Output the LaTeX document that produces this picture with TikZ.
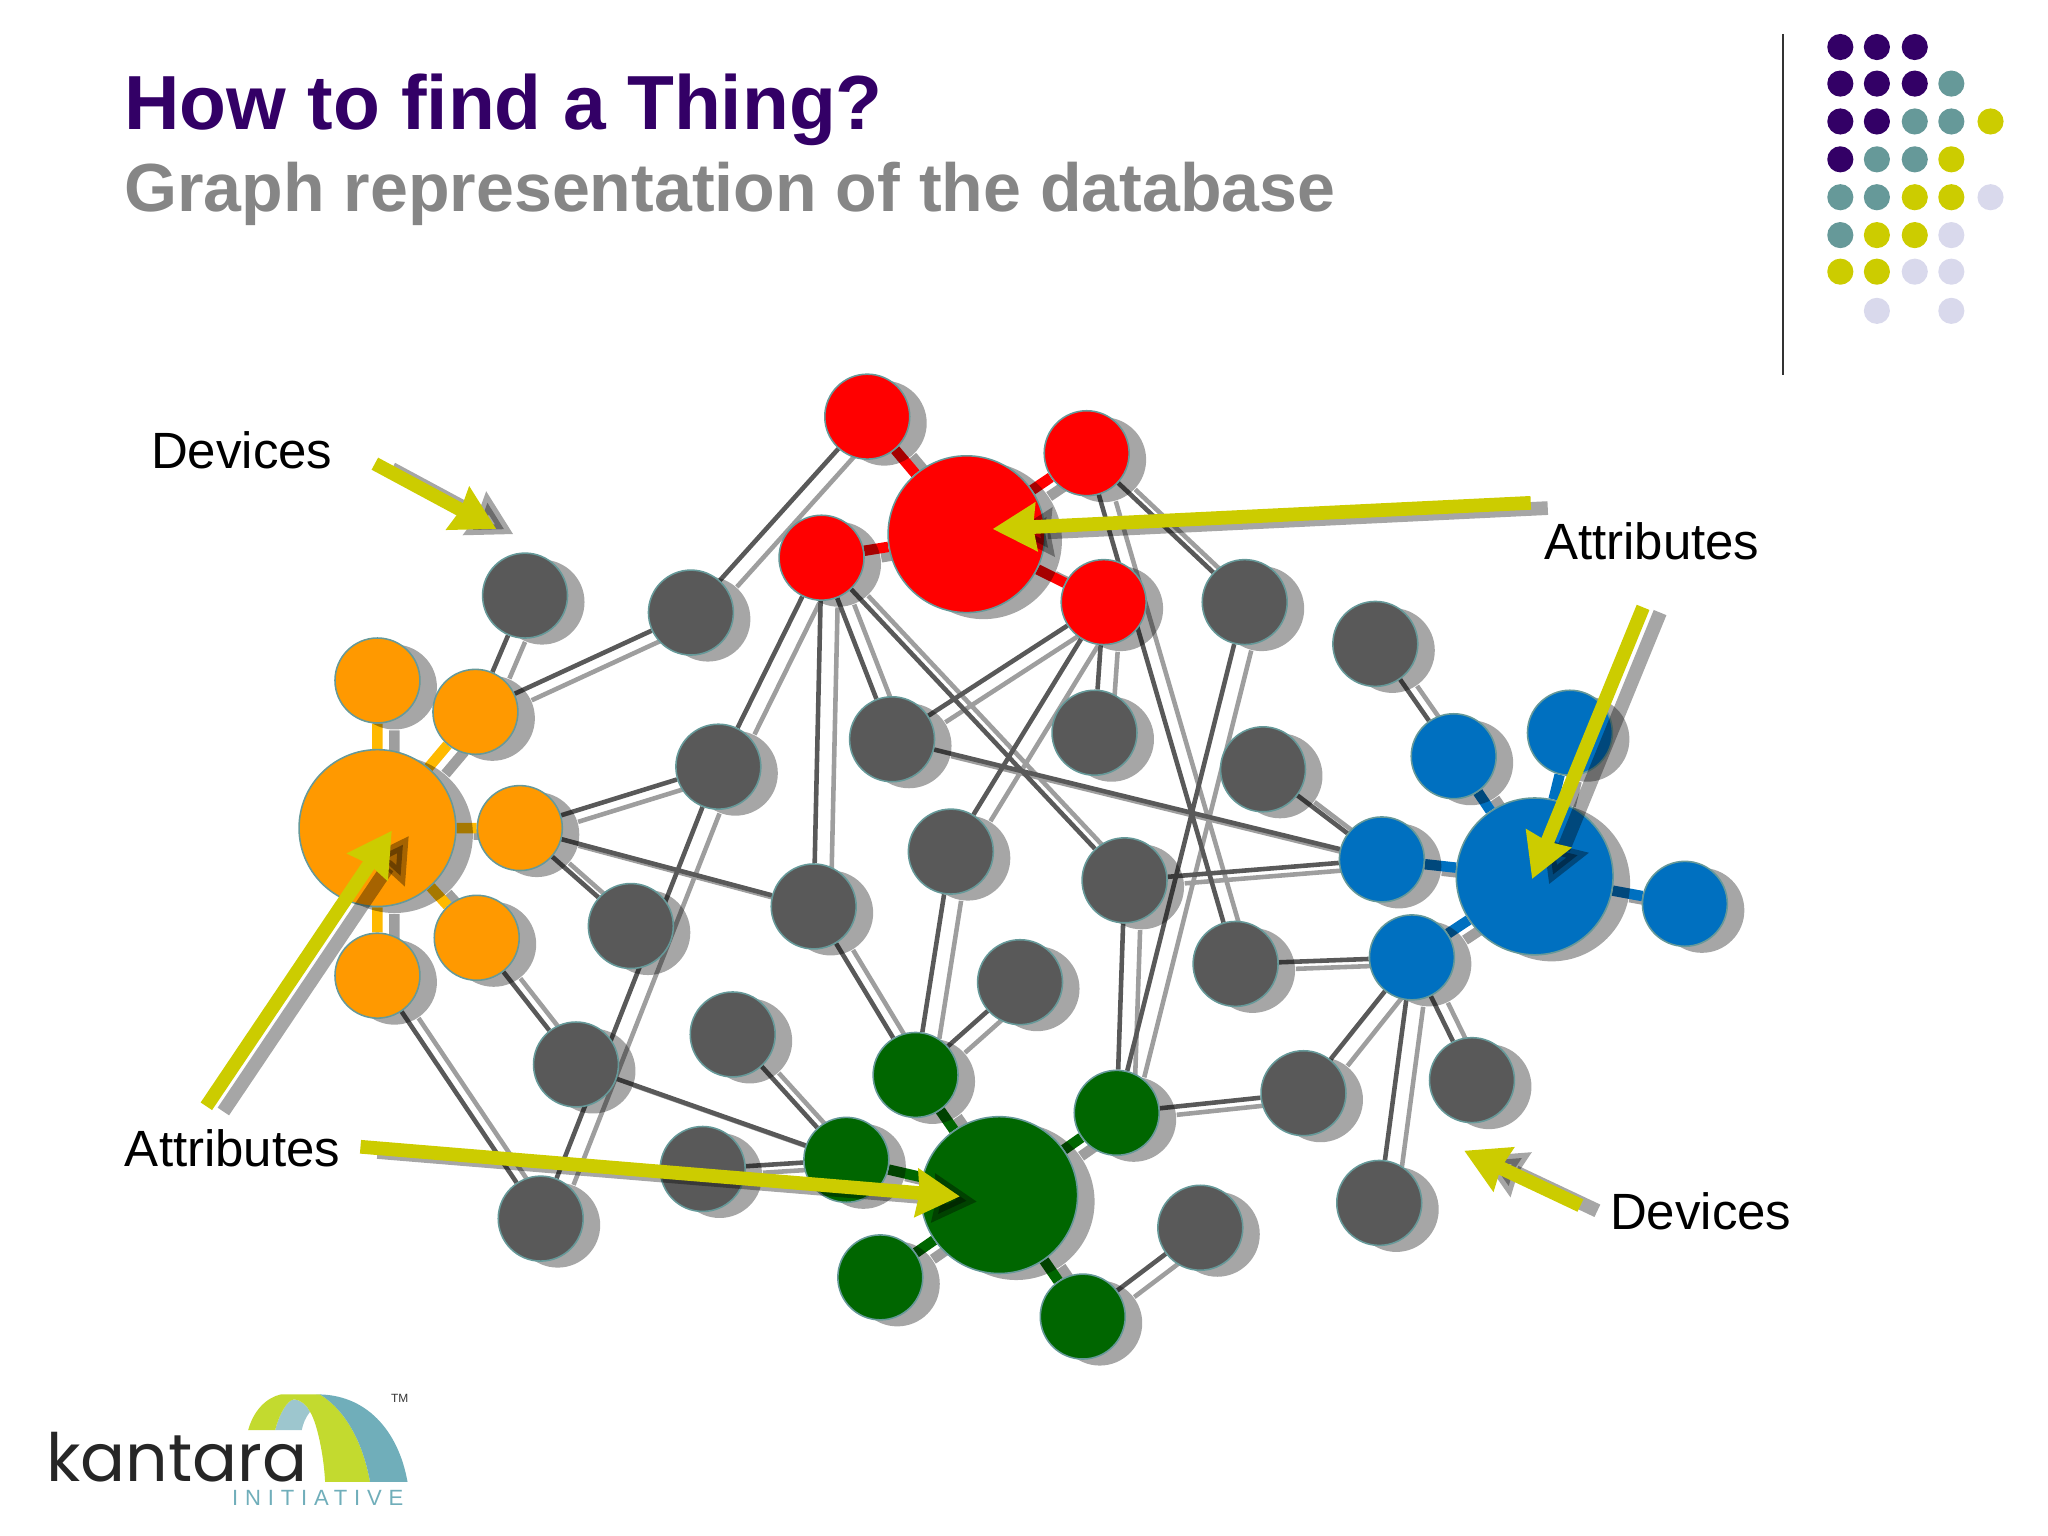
\documentclass[tikz,border=0pt]{standalone}
\usepackage{fontspec}
\setmainfont{Liberation Sans}
\newfontfamily\logofont{Poppins}
\newfontfamily\initfont[LetterSpace=31]{Liberation Sans}
\usetikzlibrary{arrows.meta,backgrounds,shadows}
\definecolor{thingpurple}{HTML}{330066}
\definecolor{thingteal}{HTML}{669999}
\definecolor{thingyellow}{HTML}{CCCC00}
\definecolor{thinglilac}{HTML}{D9D9EC}
\definecolor{thingorange}{HTML}{FF9900}
\definecolor{thinggold}{HTML}{FFB900}
\definecolor{thingblue}{HTML}{0070C0}
\definecolor{thinggreen}{HTML}{006600}
\definecolor{thinggray}{HTML}{595959}
\definecolor{logolime}{HTML}{C3DA2F}
\definecolor{logoteal}{HTML}{70AEBA}
\definecolor{logopale}{HTML}{9DC6CE}
\tikzset{
	thing/.style={circle, draw=thingteal, line width=.012cm, inner sep=0pt, minimum size=.65cm,
		general shadow={shadow xshift=.13cm, shadow yshift=-.05cm, fill=black, opacity=.35}},
	hub/.style={thing, minimum size=1.2cm},
	cast/.style={preaction={draw=black, opacity=.38, line width=#1, transform canvas={xshift=.13cm, yshift=-.05cm}}},
	devicelink/.style={cast=.035cm, draw=thinggray, line width=.035cm},
	attrlink/.style={cast=.08cm, line width=.08cm},
	pointer/.style={draw=thingyellow, line width=.105cm, -{Stealth[length=.33cm, width=.36cm, inset=.02cm]}},
	pointercast/.style={draw=black, opacity=.35, line width=.105cm, -{Stealth[length=.33cm, width=.36cm, inset=.02cm]},
		transform canvas={xshift=.13cm, yshift=-.04cm}},
	callout/.style={inner sep=0pt, anchor=base west, font=\fontsize{11.1}{13}\selectfont},
}
\begin{document}
\begin{tikzpicture}[x=.01cm, y=-.01cm]
	\useasboundingbox (0, 0) rectangle (1568, 1176);

	\node[inner sep=0pt, anchor=base west, font=\bfseries\fontsize{16.7}{20}\selectfont, text=thingpurple] (title) at (94.5, 99) {How to find a Thing?};
	\node[inner sep=0pt, anchor=base west, font=\bfseries\fontsize{14.83}{18}\selectfont, text=gray!95!white] (subtitle) at (94.5, 162) {Graph representation of the database};

	\draw[line width=.016cm, black!80] (1365, 26) -- (1365, 287);
	\fill[thingpurple] (1409, 36) circle (.1cm) (1437, 36) circle (.1cm) (1466, 36) circle (.1cm)
		(1409, 64) circle (.1cm) (1437, 64) circle (.1cm) (1466, 64) circle (.1cm)
		(1409, 93) circle (.1cm) (1437, 93) circle (.1cm) (1409, 122) circle (.1cm);
	\fill[thingteal] (1494, 64) circle (.1cm) (1466, 93) circle (.1cm) (1494, 93) circle (.1cm)
		(1437, 122) circle (.1cm) (1466, 122) circle (.1cm) (1409, 151) circle (.1cm)
		(1437, 151) circle (.1cm) (1409, 180) circle (.1cm);
	\fill[thingyellow] (1524, 93) circle (.1cm) (1494, 122) circle (.1cm) (1466, 151) circle (.1cm)
		(1494, 151) circle (.1cm) (1437, 180) circle (.1cm) (1466, 180) circle (.1cm)
		(1409, 208) circle (.1cm) (1437, 208) circle (.1cm);
	\fill[thinglilac] (1524, 151) circle (.1cm) (1494, 180) circle (.1cm) (1466, 208) circle (.1cm)
		(1494, 208) circle (.1cm) (1437, 238) circle (.1cm) (1494, 238) circle (.1cm);

	\node[thing, fill=thinggray] (g1) at (402, 456) {};
	\node[thing, fill=thinggray] (g2) at (529, 469) {};
	\node[thing, fill=thinggray] (g3) at (550, 587) {};
	\node[thing, fill=thinggray] (g4) at (483, 709) {};
	\node[thing, fill=thinggray] (g5) at (623, 694) {};
	\node[thing, fill=thinggray] (g6) at (683, 566) {};
	\node[thing, fill=thinggray] (g7) at (838, 561) {};
	\node[thing, fill=thinggray] (g8) at (728, 652) {};
	\node[thing, fill=thinggray] (g9) at (861, 674) {};
	\node[thing, fill=thinggray] (g10) at (967, 589) {};
	\node[thing, fill=thinggray] (g11) at (953, 461) {};
	\node[thing, fill=thinggray] (g12) at (1053, 493) {};
	\node[thing, fill=thinggray] (g13) at (946, 738) {};
	\node[thing, fill=thinggray] (g14) at (781, 752) {};
	\node[thing, fill=thinggray] (g15) at (561, 792) {};
	\node[thing, fill=thinggray] (g16) at (441, 815) {};
	\node[thing, fill=thinggray] (g17) at (538, 895) {};
	\node[thing, fill=thinggray] (g18) at (414, 933) {};
	\node[thing, fill=thinggray] (g19) at (998, 837) {};
	\node[thing, fill=thinggray] (g20) at (1127, 827) {};
	\node[thing, fill=thinggray] (g21) at (1056, 921) {};
	\node[thing, fill=thinggray] (g22) at (919, 940) {};

	\node[hub, fill=thingorange] (orange) at (289, 634) {};
	\node[thing, fill=thingorange] (o1) at (289, 521) {};
	\node[thing, fill=thingorange] (o2) at (364, 545) {};
	\node[thing, fill=thingorange] (o3) at (398, 634) {};
	\node[thing, fill=thingorange] (o4) at (365, 718) {};
	\node[thing, fill=thingorange] (o5) at (289, 747) {};

	\node[hub, fill=red] (red) at (740, 409) {};
	\node[thing, fill=red] (r1) at (664, 319) {};
	\node[thing, fill=red] (r2) at (629, 427) {};
	\node[thing, fill=red] (r3) at (832, 347) {};
	\node[thing, fill=red] (r4) at (845, 461) {};

	\node[hub, fill=thingblue] (blue) at (1175, 671) {};
	\node[thing, fill=thingblue] (b1) at (1113, 579) {};
	\node[thing, fill=thingblue] (b2) at (1202, 561) {};
	\node[thing, fill=thingblue] (b3) at (1058, 658) {};
	\node[thing, fill=thingblue] (b4) at (1290, 692) {};
	\node[thing, fill=thingblue] (b5) at (1081, 733) {};

	\node[hub, fill=thinggreen] (green) at (765, 915) {};
	\node[thing, fill=thinggreen] (d1) at (701, 823) {};
	\node[thing, fill=thinggreen] (d2) at (648, 888) {};
	\node[thing, fill=thinggreen] (d3) at (855, 852) {};
	\node[thing, fill=thinggreen] (d4) at (674, 978) {};
	\node[thing, fill=thinggreen] (d5) at (829, 1008) {};

	\begin{scope}[on background layer]
		\draw[devicelink] (o2) -- (g1) (o2) -- (g2) (r1) -- (g2) (o3) -- (g3) (o3) -- (g4) (o3) -- (g5)
			(o4) -- (g16) (o5) -- (g18) (g3) -- (g18) (r2) -- (g3) (r2) -- (g5) (r2) -- (g6) (r2) -- (g9)
			(r4) -- (g6) (r4) -- (g8) (r4) -- (g7) (r3) -- (g13) (r3) -- (g11) (g11) -- (d3)
			(g6) -- (b3) (g9) -- (b3) (g10) -- (b3) (g12) -- (b1) (g13) -- (b5)
			(b5) -- (g19) (b5) -- (g20) (b5) -- (g21) (g9) -- (d3) (g8) -- (d1) (g5) -- (d1)
			(g14) -- (d1) (g15) -- (d2) (g16) -- (d2) (g17) -- (d2) (d3) -- (g19) (d5) -- (g22);
		\draw[attrlink, draw=thinggold] (orange) -- (o1) (orange) -- (o2) (orange) -- (o3) (orange) -- (o4) (orange) -- (o5);
		\draw[attrlink, draw=red] (red) -- (r1) (red) -- (r2) (red) -- (r3) (red) -- (r4);
		\draw[attrlink, draw=thingblue] (blue) -- (b1) (blue) -- (b2) (blue) -- (b3) (blue) -- (b4) (blue) -- (b5);
		\draw[attrlink, draw=thinggreen] (green) -- (d1) (green) -- (d2) (green) -- (d3) (green) -- (d4) (green) -- (d5);
	\end{scope}

	\node[callout] (devicesa) at (115, 359) {Devices};
	\node[callout] (devicesb) at (1232, 941) {Devices};
	\node[callout] (attributesa) at (1181.5, 428) {Attributes};
	\node[callout] (attributesb) at (95, 893) {Attributes};

	\coordinate (da) at (287, 355);
	\coordinate (dta) at (380, 405);
	\coordinate (db) at (1210, 923);
	\coordinate (dtb) at (1121, 881);
	\coordinate (ar) at (1172, 385);
	\coordinate (art) at (760, 405);
	\coordinate (ab) at (1258, 465);
	\coordinate (abt) at (1173, 673);
	\coordinate (ao) at (158, 847);
	\coordinate (aot) at (300, 636);
	\coordinate (ag) at (276, 878);
	\coordinate (agt) at (735, 916);

	\draw[pointercast] (da) -- (dta);
	\draw[pointercast] (db) -- (dtb);
	\draw[pointercast] (ar) -- (art);
	\draw[pointercast] (ab) -- (abt);
	\draw[pointercast] (ao) -- (aot);
	\draw[pointercast] (ag) -- (agt);
	\draw[pointer] (da) -- (dta);
	\draw[pointer] (db) -- (dtb);
	\draw[pointer] (ar) -- (art);
	\draw[pointer] (ab) -- (abt);
	\draw[pointer] (ao) -- (aot);
	\draw[pointer] (ag) -- (agt);

	\fill[logopale] (210.6, 1095) .. controls (214, 1082) and (220, 1072) .. (225, 1071.4) .. controls (231, 1072) and (235, 1076) .. (237.4, 1080.9) .. controls (234, 1085) and (232, 1090) .. (231, 1095) -- cycle;
	\fill[logolime] (190, 1095) .. controls (194, 1080) and (204, 1070) .. (215, 1067.6) -- (245, 1067.6) .. controls (265, 1080) and (278, 1105) .. (283.3, 1134.5) -- (248.9, 1134.5) .. controls (248, 1115) and (243, 1090) .. (237.4, 1080.9) .. controls (235, 1076) and (231, 1072) .. (225, 1071.4) .. controls (220, 1072) and (214, 1082) .. (210.6, 1095) -- cycle;
	\fill[logoteal] (242, 1067.6) .. controls (280, 1067) and (305, 1095) .. (312, 1134.5) -- (283.3, 1134.5) .. controls (278, 1105) and (265, 1080) .. (245, 1067.6) -- cycle;
	\node[inner sep=0pt, anchor=base west, font=\logofont\fontsize{14.5}{17}\selectfont, text=black!85] (kantara) at (35, 1134) {kantara};
	\node[inner sep=0pt, anchor=base west, font=\initfont\fontsize{4.8}{6}\selectfont, text=logoteal] (initiative) at (177, 1153) {INITIATIVE};
	\node[inner sep=0pt, font=\fontsize{2.6}{3}\selectfont, text=black!80] (tm) at (306, 1071) {TM};
\end{tikzpicture}
\end{document}
